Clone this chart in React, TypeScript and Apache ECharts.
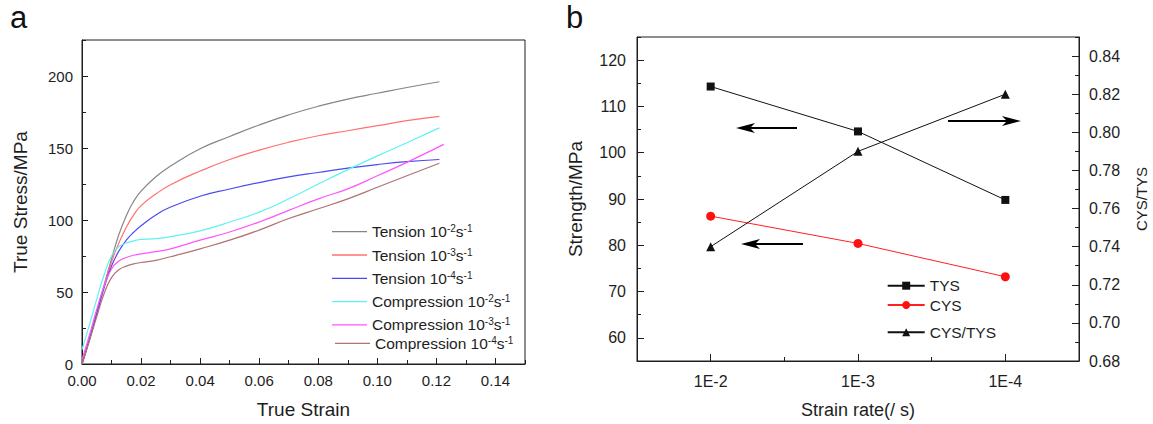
import React, { useEffect, useRef } from 'react';
import * as echarts from 'echarts';

// ---------- Panel a data ----------
const strainTicks = [0, 0.02, 0.04, 0.06, 0.08, 0.1, 0.12, 0.14];
const stressTicks = [0, 50, 100, 150, 200];

const curveNames = [
  'Tension 10-2s-1',
  'Tension 10-3s-1',
  'Tension 10-4s-1',
  'Compression 10-2s-1',
  'Compression 10-3s-1',
  'Compression 10-4s-1',
];

const tension2: [number, number][] = [
  [0, 0], [0.0025, 17], [0.005, 36], [0.0075, 55], [0.01, 73], [0.0125, 90], [0.015, 103],
  [0.0175, 113], [0.02, 120], [0.025, 130], [0.03, 137.5], [0.04, 149.5], [0.05, 158], [0.06, 166],
  [0.07, 173], [0.08, 179], [0.09, 184], [0.1, 188], [0.11, 192], [0.121, 196],
];
const tension3: [number, number][] = [
  [0, 0], [0.0025, 17], [0.005, 35], [0.0075, 54], [0.01, 71], [0.0125, 84], [0.015, 95],
  [0.0175, 103.5], [0.02, 110], [0.025, 118], [0.03, 124.5], [0.04, 134], [0.05, 142], [0.06, 148.5],
  [0.07, 154], [0.08, 158.5], [0.09, 162], [0.1, 165.5], [0.11, 169], [0.121, 172],
];
const tension4: [number, number][] = [
  [0, 0], [0.0025, 17], [0.005, 35], [0.0075, 53], [0.01, 68], [0.0125, 78.5], [0.015, 86],
  [0.0175, 91.5], [0.02, 96], [0.025, 103.5], [0.03, 109], [0.04, 116.5], [0.05, 121.5], [0.06, 126],
  [0.07, 130], [0.08, 133], [0.09, 136], [0.1, 138.5], [0.11, 140.5], [0.121, 142],
];
const compression2: [number, number][] = [
  [0, 10], [0.0025, 27], [0.005, 45], [0.0075, 62], [0.01, 75], [0.0125, 81.5], [0.015, 84],
  [0.0175, 85.5], [0.02, 86.5], [0.025, 87], [0.03, 88.5], [0.04, 92.5], [0.05, 98.6], [0.06, 105.5],
  [0.07, 114.7], [0.08, 125], [0.09, 135], [0.1, 144.5], [0.11, 153.7], [0.121, 164],
];
const compression3: [number, number][] = [
  [0, 3], [0.0025, 20], [0.005, 38], [0.0075, 54], [0.01, 66], [0.0125, 71.5], [0.015, 74],
  [0.0175, 75.5], [0.02, 76.5], [0.025, 78], [0.03, 80], [0.04, 86], [0.05, 91.7], [0.06, 98.6],
  [0.07, 106.7], [0.08, 114.7], [0.09, 121.6], [0.1, 130.7], [0.11, 140], [0.1225, 152.5],
];
const compression4: [number, number][] = [
  [0, 0], [0.0025, 16], [0.005, 33], [0.0075, 49], [0.01, 60], [0.0125, 65.5], [0.015, 68],
  [0.0175, 69.5], [0.02, 70.5], [0.025, 72], [0.03, 74.5], [0.04, 80], [0.05, 86], [0.06, 93],
  [0.07, 101], [0.08, 107.8], [0.09, 114.7], [0.1, 122.7], [0.11, 130.7], [0.121, 139.4],
];
const curveData = [tension2, tension3, tension4, compression2, compression3, compression4];
const curveColors = ['#858585', '#ff7070', '#4a4af0', '#5ef2f2', '#ff55ff', '#b07272'];

// ---------- Panel b data ----------
const rateCategories = ['1E-2', '1E-3', '1E-4'];
const tysValues = [114.3, 104.6, 89.8];
const cysValues = [86.3, 80.4, 73.2];
const ratioValues = [0.74, 0.79, 0.82];
const strengthTicks = [60, 70, 80, 90, 100, 110, 120];
const ratioTicks = [0.68, 0.7, 0.72, 0.74, 0.76, 0.78, 0.8, 0.82, 0.84];

const FONT = '"Liberation Sans", Arial, sans-serif';
const INK = '#1e1e1e';

function majorFormatter(ticks: number[], digits: number) {
  return (v: number) => {
    const t = ticks.find((k) => Math.abs(k - v) < 1e-7);
    return t === undefined ? '' : t.toFixed(digits);
  };
}

function legendText(name: string) {
  // "Tension 10-2s-1" -> rich text with superscripts
  const m = name.match(/^(.*10)(-\d)s(-1)$/);
  if (!m) return name;
  return `${m[1]}{sup|${m[2]}}s{sup|${m[3]}}`;
}

function mainValueAxis(extra: any) {
  return {
    type: 'value',
    axisLine: { show: true, lineStyle: { color: INK, width: 1 } },
    axisTick: { show: true, inside: true, length: 4, lineStyle: { color: INK, width: 1 } },
    splitLine: { show: false },
    ...extra,
  };
}

function overlayValueAxis(extra: any, ticks: number[], len: number) {
  return {
    type: 'value',
    axisLine: { show: false },
    axisLabel: { show: false },
    axisTick: { show: true, inside: true, length: len, customValues: ticks, lineStyle: { color: INK, width: 1 } },
    splitLine: { show: false },
    ...extra,
  };
}

function arrow(tipX: number, tailX: number, y: number) {
  const dir = tailX > tipX ? 1 : -1;
  return [
    {
      type: 'line',
      shape: { x1: tailX, y1: y, x2: tipX + dir * 12, y2: y },
      style: { stroke: '#000', lineWidth: 2 },
      silent: true,
    },
    {
      type: 'polygon',
      shape: {
        points: [
          [tipX, y],
          [tipX + dir * 19, y - 5],
          [tipX + dir * 14, y],
          [tipX + dir * 19, y + 5],
        ],
      },
      style: { fill: '#000' },
      silent: true,
    },
  ];
}

const curveLegendText = {
  fontSize: 15.5, color: INK, fontFamily: FONT, lineHeight: 16,
  rich: { sup: { fontSize: 10, verticalAlign: 'top', lineHeight: 16, color: INK, fontFamily: FONT } },
};

export default function App() {
  const ref = useRef<HTMLDivElement>(null);

  useEffect(() => {
    const chart = echarts.init(ref.current!, undefined, { renderer: 'svg' });

    const labelStyleA = { fontSize: 15, color: INK, fontFamily: FONT };
    const labelStyleB = { fontSize: 16, color: INK, fontFamily: FONT };

    const option: any = {
      animation: false,
      backgroundColor: '#ffffff',
      textStyle: { fontFamily: FONT },
      grid: [
        { left: 82, top: 40, width: 443, height: 327, show: true, borderColor: INK, borderWidth: 1, backgroundColor: 'transparent' },
        { left: 637, top: 37, width: 442, height: 326, show: true, borderColor: INK, borderWidth: 1, backgroundColor: 'transparent' },
      ],
      xAxis: [
        mainValueAxis({
          gridIndex: 0, min: 0, max: 0.15, interval: 0.01, position: 'bottom',
          axisLabel: { ...labelStyleA, margin: 9, formatter: majorFormatter(strainTicks, 2) },
          name: 'True Strain', nameLocation: 'middle', nameGap: 36,
          nameTextStyle: { fontSize: 19, color: INK, fontFamily: FONT },
        }),
        overlayValueAxis({ gridIndex: 0, min: 0, max: 0.15, position: 'bottom' }, strainTicks, 6),
        {
          type: 'category', gridIndex: 1, data: rateCategories, boundaryGap: true, position: 'bottom',
          axisLine: { show: true, lineStyle: { color: INK, width: 1 } },
          axisTick: { show: true, inside: true, alignWithLabel: true, length: 7, lineStyle: { color: INK } },
          axisLabel: { ...labelStyleB, margin: 12 },
          splitLine: { show: false },
          name: 'Strain rate(/ s)', nameLocation: 'middle', nameGap: 40,
          nameTextStyle: { fontSize: 18, color: INK, fontFamily: FONT },
        },
        {
          type: 'category', gridIndex: 1, data: rateCategories, boundaryGap: true, position: 'bottom',
          axisLine: { show: false },
          axisTick: { show: true, inside: true, length: 4, lineStyle: { color: INK } },
          axisLabel: { show: false },
          splitLine: { show: false },
        },
      ],
      yAxis: [
        mainValueAxis({
          gridIndex: 0, min: 0, max: 225, interval: 25, position: 'left',
          axisLabel: { ...labelStyleA, margin: 9, formatter: majorFormatter(stressTicks, 0) },
          name: 'True Stress/MPa', nameLocation: 'middle', nameGap: 52, nameRotate: 90,
          nameTextStyle: { fontSize: 19, color: INK, fontFamily: FONT },
        }),
        overlayValueAxis({ gridIndex: 0, min: 0, max: 225, position: 'left' }, stressTicks, 6),
        mainValueAxis({
          gridIndex: 1, min: 55, max: 125, interval: 5, position: 'left',
          axisLabel: { ...labelStyleB, margin: 11, formatter: majorFormatter(strengthTicks, 0) },
          name: 'Strength/MPa', nameLocation: 'middle', nameGap: 52, nameRotate: 90,
          nameTextStyle: { fontSize: 19, color: INK, fontFamily: FONT },
        }),
        overlayValueAxis({ gridIndex: 1, min: 55, max: 125, position: 'left' }, strengthTicks, 7),
        mainValueAxis({
          gridIndex: 1, min: 0.68, max: 0.85, interval: 0.01, position: 'right',
          axisLabel: { ...labelStyleB, margin: 10, formatter: majorFormatter(ratioTicks, 2) },
          name: 'CYS/TYS', nameLocation: 'middle', nameGap: 55, nameRotate: 90,
          nameTextStyle: { fontSize: 15, color: INK, fontFamily: FONT },
        }),
        overlayValueAxis({ gridIndex: 1, min: 0.68, max: 0.85, position: 'right' }, ratioTicks, 7),
      ],
      legend: [
        {
          data: curveNames.slice(0, 5),
          orient: 'vertical', left: 332, top: 223.7, padding: 0,
          itemWidth: 35, itemHeight: 1.3, itemGap: 7.3,
          icon: 'rect',
          formatter: legendText,
          textStyle: curveLegendText,
        },
        {
          data: curveNames.slice(5),
          orient: 'vertical', left: 335, top: 335.3, padding: 0,
          itemWidth: 35, itemHeight: 1.3,
          icon: 'rect',
          formatter: legendText,
          textStyle: curveLegendText,
        },
        {
          data: ['TYS', 'CYS'],
          orient: 'vertical', left: 886.7, top: 277.7, padding: 0,
          itemWidth: 37, itemHeight: 10, itemGap: 3.3,
          textStyle: { fontSize: 15.5, color: INK, fontFamily: FONT, lineHeight: 16 },
        },
        {
          data: ['CYS/TYS'],
          orient: 'vertical', left: 886.7, top: 324.3, padding: 0,
          itemWidth: 37, itemHeight: 10,
          textStyle: { fontSize: 15.5, color: INK, fontFamily: FONT, lineHeight: 16 },
        },
      ],
      series: [
        ...curveData.map((d, i) => ({
          name: curveNames[i],
          type: 'line',
          xAxisIndex: 0,
          yAxisIndex: 0,
          data: d,
          showSymbol: false,
          symbol: 'none',
          smooth: 0.5,
          lineStyle: { color: curveColors[i], width: 1.2 },
          itemStyle: { color: curveColors[i] },
        })),
        {
          name: 'TYS', type: 'line', xAxisIndex: 2, yAxisIndex: 2, data: tysValues,
          symbol: 'rect', symbolSize: 8,
          lineStyle: { color: '#111', width: 1 }, itemStyle: { color: '#111' },
        },
        {
          name: 'CYS', type: 'line', xAxisIndex: 2, yAxisIndex: 2, data: cysValues,
          symbol: 'circle', symbolSize: 9,
          lineStyle: { color: '#ff2020', width: 1 }, itemStyle: { color: '#ff1010' },
        },
        {
          name: 'CYS/TYS', type: 'line', xAxisIndex: 2, yAxisIndex: 4, data: ratioValues,
          symbol: 'triangle', symbolSize: 9,
          lineStyle: { color: '#111', width: 1 }, itemStyle: { color: '#111' },
        },
      ],
      graphic: [
        { type: 'text', left: 10, top: 2, style: { text: 'a', fontSize: 31, fill: '#111', fontFamily: FONT } },
        { type: 'text', left: 566, top: 2, style: { text: 'b', fontSize: 31, fill: '#111', fontFamily: FONT } },
        ...arrow(736, 797, 128),
        ...arrow(741, 803, 244),
        ...arrow(1021, 948, 121),
      ],
    };

    chart.setOption(option);
    return () => chart.dispose();
  }, []);

  return (
    <div
      ref={ref}
      style={{ position: 'fixed', left: 0, top: 0, width: 1153, height: 424, background: '#fff' }}
    />
  );
}
